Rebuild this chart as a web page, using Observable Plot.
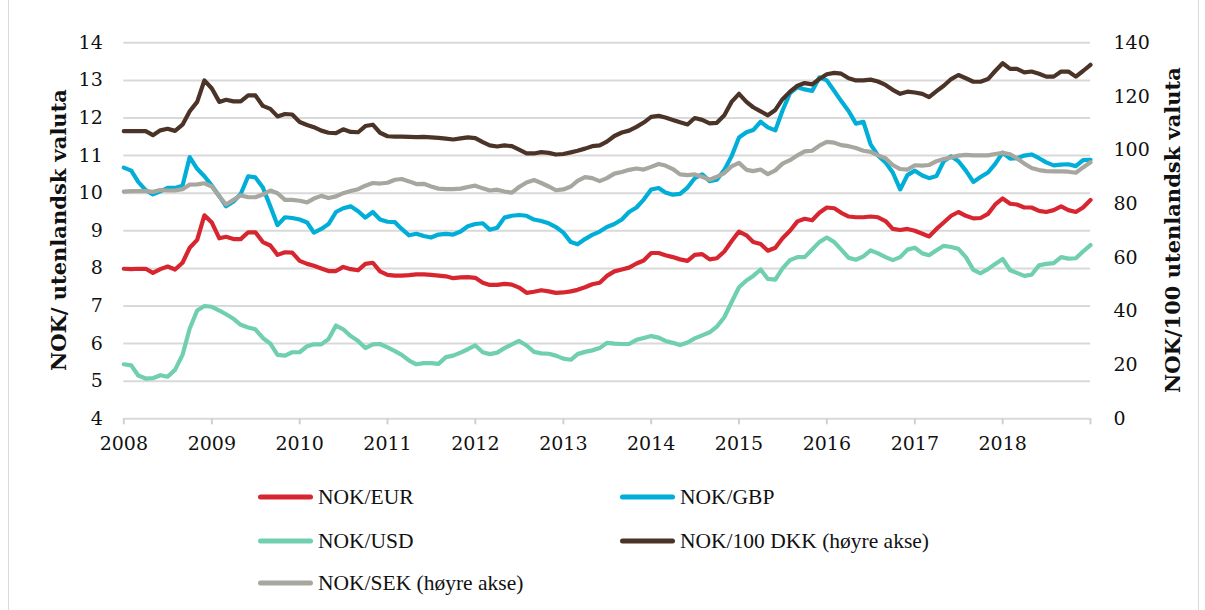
<!DOCTYPE html>
<html><head><meta charset="utf-8">
<script src="https://cdn.jsdelivr.net/npm/d3@7"></script>
<script src="https://cdn.jsdelivr.net/npm/@observablehq/plot@0.6"></script>
<style>
body{margin:0;background:#fff;}
#wrap{position:relative;width:1205px;height:610px;overflow:hidden;background:#fff;}
#frame{position:absolute;left:8px;top:-2px;width:1191px;height:613px;border:1px solid #d9d9d9;box-sizing:border-box;}
#chart{position:absolute;left:0;top:0;}
.title{position:absolute;font-family:"DejaVu Serif",serif;font-weight:bold;font-size:21px;color:#111;white-space:nowrap;transform:translate(-50%,-50%) rotate(-90deg);}
.lg{position:absolute;font-family:"Liberation Serif",serif;font-size:21.5px;color:#111;line-height:22px;white-space:nowrap;transform:translateY(-50%);}
.sw{position:absolute;height:5px;border-radius:3px;transform:translateY(-50%);}
</style></head><body>
<div id="wrap"><div id="frame"></div><div id="chart"></div>
<div class="title" style="left:58px;top:230px">NOK/ utenlandsk valuta</div>
<div class="title" style="left:1172px;top:230px">NOK/100 utenlandsk valuta</div>
<div id="legend"></div>
</div>
<script>
// Monthly observations, Jan 2008 - Jan 2019
const seriesNames = ["NOK/EUR", "NOK/GBP", "NOK/USD", "NOK/100 DKK (høyre akse)", "NOK/SEK (høyre akse)"];
const seriesColors = ["#d7262f", "#00aed8", "#6fcfb0", "#4b3427", "#a7a69f"];
const rightAxis = [false, false, false, true, true];
const leftTicks = [4,5,6,7,8,9,10,11,12,13,14];
const rightTicks = [0,20,40,60,80,100,120,140];
const yearTicks = [2008,2009,2010,2011,2012,2013,2014,2015,2016,2017,2018,2019];

const eur = [7.99,7.98,7.99,7.99,7.88,7.98,8.05,7.97,8.15,8.55,8.76,9.41,9.22,8.80,8.84,8.78,8.78,8.96,8.96,8.70,8.61,8.36,8.43,8.42,8.20,8.12,8.07,8.00,7.93,7.93,8.04,7.98,7.95,8.12,8.15,7.92,7.83,7.81,7.81,7.82,7.84,7.84,7.83,7.81,7.79,7.74,7.76,7.77,7.75,7.62,7.56,7.56,7.59,7.57,7.49,7.35,7.38,7.42,7.39,7.35,7.36,7.39,7.43,7.50,7.58,7.62,7.80,7.92,7.97,8.02,8.13,8.21,8.41,8.41,8.35,8.30,8.24,8.20,8.36,8.38,8.24,8.27,8.45,8.72,8.98,8.88,8.70,8.65,8.47,8.55,8.80,9.00,9.25,9.32,9.28,9.48,9.62,9.60,9.48,9.38,9.36,9.36,9.38,9.36,9.26,9.05,9.02,9.05,9.00,8.92,8.85,9.05,9.22,9.40,9.50,9.40,9.33,9.34,9.45,9.70,9.86,9.72,9.70,9.62,9.62,9.53,9.50,9.55,9.65,9.55,9.50,9.62,9.82];
const gbp = [10.68,10.60,10.30,10.08,9.97,10.05,10.14,10.14,10.20,10.96,10.65,10.45,10.20,9.92,9.65,9.78,9.98,10.45,10.42,10.15,9.65,9.15,9.36,9.34,9.30,9.22,8.95,9.05,9.18,9.50,9.60,9.65,9.52,9.35,9.50,9.30,9.24,9.23,9.05,8.88,8.92,8.86,8.82,8.90,8.92,8.90,8.98,9.12,9.18,9.20,9.03,9.08,9.35,9.40,9.42,9.40,9.30,9.26,9.20,9.10,8.95,8.70,8.64,8.78,8.89,8.98,9.10,9.18,9.30,9.50,9.62,9.83,10.10,10.14,10.02,9.96,9.98,10.15,10.40,10.50,10.32,10.36,10.62,10.98,11.48,11.62,11.68,11.90,11.75,11.67,12.20,12.66,12.82,12.76,12.72,13.08,13.00,12.72,12.45,12.18,11.85,11.90,11.30,11.00,10.82,10.55,10.10,10.48,10.60,10.47,10.40,10.46,10.85,10.98,10.85,10.60,10.30,10.43,10.55,10.78,11.08,10.92,10.93,11.00,11.03,10.93,10.82,10.74,10.76,10.77,10.72,10.88,10.89];
const usd = [5.45,5.42,5.15,5.07,5.08,5.16,5.12,5.30,5.70,6.40,6.88,7.00,6.98,6.88,6.78,6.66,6.50,6.43,6.38,6.15,6.00,5.70,5.68,5.77,5.77,5.93,5.98,5.98,6.12,6.48,6.38,6.20,6.07,5.88,5.98,5.99,5.90,5.80,5.70,5.55,5.45,5.48,5.48,5.46,5.64,5.68,5.76,5.85,5.95,5.77,5.72,5.76,5.88,5.98,6.07,5.95,5.78,5.74,5.73,5.68,5.60,5.57,5.72,5.78,5.82,5.88,6.02,6.00,5.99,5.99,6.10,6.15,6.20,6.16,6.07,6.02,5.96,6.03,6.14,6.22,6.30,6.45,6.70,7.10,7.50,7.68,7.80,7.97,7.72,7.70,8.00,8.22,8.30,8.30,8.50,8.70,8.82,8.70,8.50,8.28,8.23,8.32,8.48,8.40,8.30,8.22,8.30,8.50,8.55,8.40,8.35,8.48,8.60,8.57,8.52,8.30,7.96,7.87,7.98,8.12,8.25,7.95,7.88,7.80,7.83,8.08,8.12,8.14,8.30,8.26,8.27,8.45,8.62];
const dkk = [107.1,107.1,107.1,107.1,105.6,107.4,108.0,107.2,109.5,114.5,118.0,126.0,123.0,118.0,118.8,118.2,118.2,120.4,120.4,116.5,115.4,112.6,113.5,113.3,110.5,109.4,108.6,107.3,106.5,106.4,107.8,106.8,106.7,109.0,109.5,106.5,105.2,105.1,105.1,105.0,104.9,105.0,104.8,104.6,104.3,104.0,104.4,104.8,104.5,103.0,101.8,101.4,101.8,101.5,100.2,98.8,98.8,99.3,99.0,98.4,98.6,99.2,99.8,100.6,101.5,101.8,103.2,105.3,106.6,107.3,108.7,110.3,112.4,112.8,112.2,111.3,110.4,109.6,112.0,111.3,110.0,110.2,113.0,118.0,121.0,118.0,116.0,114.5,113.0,115.0,119.0,121.8,124.0,125.0,124.5,126.5,128.3,128.8,128.5,126.8,126.0,126.0,126.3,125.6,124.3,122.5,121.0,121.8,121.5,121.0,119.8,122.0,124.0,126.5,128.0,126.8,125.5,125.5,126.5,129.5,132.4,130.3,130.3,129.0,129.3,128.5,127.4,127.4,129.3,129.3,127.4,129.5,131.8];
const sek = [84.6,84.8,84.8,84.8,84.5,85.2,85.0,85.0,85.5,87.2,87.3,87.7,86.5,82.8,79.8,81.5,83.2,82.5,82.5,83.5,85.0,84.0,81.5,81.5,81.2,80.6,82.0,83.0,82.2,82.8,84.0,84.8,85.5,86.8,87.8,87.6,87.9,89.0,89.3,88.4,87.4,87.5,86.5,85.7,85.5,85.5,85.7,86.3,86.8,85.8,85.0,85.3,84.6,84.2,86.3,88.0,88.9,87.8,86.5,85.1,85.4,86.5,88.6,90.0,89.6,88.5,89.6,91.3,91.9,92.7,93.2,92.8,93.8,94.9,94.3,93.0,91.0,90.7,91.0,90.1,89.0,90.1,91.5,94.0,95.3,92.7,92.2,92.8,91.1,92.5,95.0,96.3,98.1,99.6,99.8,101.7,103.1,102.8,101.9,101.5,100.8,99.8,99.4,98.1,97.0,94.5,93.0,92.8,94.4,94.3,94.5,95.9,96.7,97.3,98.0,98.3,98.1,98.1,98.1,98.6,99.0,98.5,97.0,95.0,93.4,92.6,92.2,92.1,92.1,92.0,91.6,93.6,95.5];

const seriesValues = [eur, gbp, usd, dkk, sek];
const dates = d3.utcMonth.range(new Date(Date.UTC(2008,0,1)), new Date(Date.UTC(2019,1,1)));
// right-axis values (0-140) share the frame with the left axis (4-14)
const toLeft = r => 4 + r / 14;
const rows = [];
seriesValues.forEach((vals, s) => vals.forEach((v, i) => {
  rows.push({date: dates[i], value: rightAxis[s] ? toLeft(v) : v, name: seriesNames[s]});
}));

const chart = Plot.plot({
  width: 1205, height: 460,
  marginLeft: 123.3, marginRight: 115, marginTop: 42.3, marginBottom: 41.7,
  x: {type: "utc", domain: [new Date(Date.UTC(2008,0,1)), new Date(Date.UTC(2019,0,1))]},
  y: {domain: [4, 14]},
  color: {domain: seriesNames, range: seriesColors},
  style: {fontFamily: "'DejaVu Serif', serif", fontSize: "19px", color: "#111", background: "transparent", overflow: "visible"},
  marks: [
    Plot.ruleY(leftTicks, {stroke: "#d9d9d9", strokeWidth: 2}),
    Plot.axisX({ticks: yearTicks.map(y => new Date(Date.UTC(y,0,1))), tickSize: 6, tickPadding: 12,
      stroke: "#d0d0d0", strokeWidth: 2, fill: "#111",
      tickFormat: d => d.getUTCFullYear() === 2019 ? "" : String(d.getUTCFullYear()), label: null}),
    Plot.axisY({ticks: leftTicks, tickSize: 0, tickPadding: 21, anchor: "left", label: null, fill: "#111"}),
    Plot.axisY({ticks: rightTicks.map(toLeft), tickSize: 0, tickPadding: 23, anchor: "right", label: null, fill: "#111",
      tickFormat: d => String(Math.round((d - 4) * 14))}),
    Plot.line(rows, {x: "date", y: "value", z: "name", stroke: "name", strokeWidth: 4.2, strokeLinejoin: "round", strokeLinecap: "round"})
  ]
});
document.getElementById("chart").appendChild(chart);

// legend
const legendPos = [[258, 497], [620, 497], [258, 541], [620, 541], [258, 583]];
const lg = document.getElementById("legend");
seriesNames.forEach((n, i) => {
  const [x, y] = legendPos[i];
  const sw = document.createElement("div");
  sw.className = "sw";
  sw.style.left = x + "px"; sw.style.top = y + "px"; sw.style.width = "55px";
  sw.style.background = seriesColors[i];
  lg.appendChild(sw);
  const t = document.createElement("div");
  t.className = "lg";
  t.style.left = (x + 60) + "px"; t.style.top = y + "px";
  t.textContent = n;
  lg.appendChild(t);
});
</script>
</body></html>
